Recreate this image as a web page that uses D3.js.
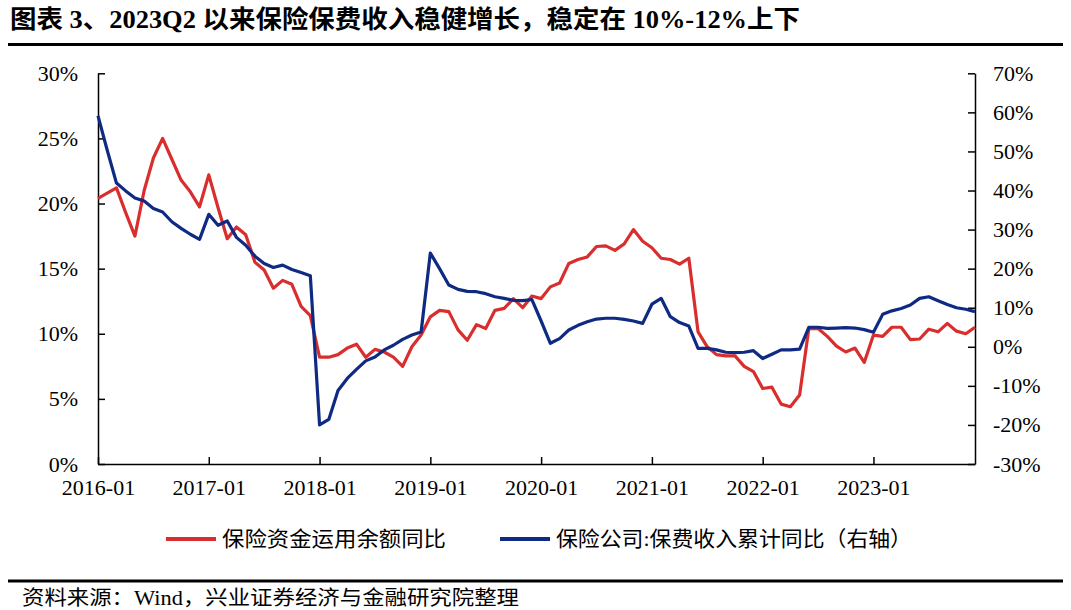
<!DOCTYPE html>
<html><head><meta charset="utf-8">
<script src="https://cdn.jsdelivr.net/npm/d3@7"></script>
<style>body{margin:0;background:#fff} svg{display:block}</style>
</head><body><svg id="c" width="1071" height="610"></svg>
<script>
const titleText = "图表 3、2023Q2 以来保险保费收入稳健增长，稳定在 10%-12%上下";
const sourceText = "资料来源：Wind，兴业证券经济与金融研究院整理";
const seriesNames = ["保险资金运用余额同比", "保险公司:保费收入累计同比（右轴）"];
const months = d3.timeMonth.range(new Date(2016, 0, 1), new Date(2024, 0, 1)).map(d3.timeFormat("%Y-%m"));
const xTickLabels = ["2016-01", "2017-01", "2018-01", "2019-01", "2020-01", "2021-01", "2022-01", "2023-01"];
const leftTicks = [0, 5, 10, 15, 20, 25, 30];
const rightTicks = [-30, -20, -10, 0, 10, 20, 30, 40, 50, 60, 70];

// 保险资金运用余额同比 (%), left axis
const fundUseYoY = [
  20.4, 20.8, 21.2, 19.3, 17.5, 21.0, 23.5, 25.0, 23.4, 21.8, 20.9, 19.75,
  22.2, 19.7, 17.3, 18.2, 17.6, 15.5, 14.9, 13.5, 14.1, 13.8, 12.1, 11.4,
  8.2, 8.2, 8.4, 8.9, 9.2, 8.2, 8.8, 8.6, 8.2, 7.5, 9.0, 9.9,
  11.3, 11.8, 11.7, 10.3, 9.5, 10.7, 10.4, 11.8, 11.95, 12.7, 12.0, 12.9,
  12.7, 13.6, 13.9, 15.4, 15.7, 15.9, 16.7, 16.75, 16.4, 16.9, 18.0, 17.1,
  16.6, 15.8, 15.7, 15.35, 15.8, 10.15, 9.0, 8.4, 8.3, 8.3, 7.5, 7.1,
  5.8, 5.9, 4.6, 4.4, 5.3, 10.4, 10.4, 9.8, 9.05, 8.6, 8.9, 7.8,
  9.9, 9.8, 10.5, 10.5, 9.55, 9.6, 10.35, 10.15, 10.8, 10.2, 10.0, 10.5
];
// 保险公司:保费收入累计同比 (%), right axis
const premiumYoY = [
  59.1, 50.3, 41.9, 39.9, 38.1, 37.3, 35.4, 34.5, 32.0, 30.3, 28.8, 27.5,
  33.9, 31.1, 32.2, 28.0, 26.0, 23.2, 21.3, 20.3, 20.9, 19.8, 19.0, 18.2,
  -20.0, -18.6, -11.2, -8.1, -5.8, -3.6, -2.6, -0.8, 0.4, 1.9, 3.0, 3.8,
  24.0, 20.0, 15.8, 14.7, 14.2, 14.1, 13.6, 12.8, 12.4, 11.9, 11.8, 12.1,
  6.6, 0.9, 2.1, 4.3, 5.5, 6.4, 7.1, 7.3, 7.3, 7.0, 6.6, 6.0,
  10.9, 12.4, 7.7, 6.2, 5.3, -0.4, -0.4, -0.8, -1.4, -1.5, -1.4, -1.0,
  -3.0, -1.9, -0.8, -0.8, -0.6, 5.0, 5.0, 4.7, 4.8, 4.9, 4.8, 4.4,
  3.7, 8.3, 9.2, 9.8, 10.7, 12.4, 12.8, 11.8, 10.8, 10.0, 9.6, 9.0
];

const RED = "#d92e2e", BLUE = "#0f2a82";
const FONT = "'Liberation Serif','Noto Sans CJK SC',serif";
const CJK = "'Liberation Serif','Noto Sans CJK SC',sans-serif";

const svg = d3.select("#c");
const L = 98, R = 975, T = 73.3, B = 464;

const x = d3.scalePoint().domain(months).range([L, R]);
const yL = d3.scaleLinear().domain([0, 30]).range([B, T]);
const yR = d3.scaleLinear().domain([-30, 70]).range([B, T]);

// title
svg.append("text").attr("x", 10).attr("y", 28)
  .attr("font-family", CJK).attr("font-weight", "bold").attr("font-size", 25)
  .attr("textLength", 790).attr("lengthAdjust", "spacingAndGlyphs")
  .attr("fill", "#000").text(titleText);
svg.append("line").attr("x1", 8).attr("x2", 1063).attr("y1", 44.5).attr("y2", 44.5)
  .attr("stroke", "#000").attr("stroke-width", 3);

// axes
const fmt = d => d + "%";
const gL = svg.append("g").attr("transform", `translate(${L},0)`)
  .call(d3.axisLeft(yL).tickValues(leftTicks).tickFormat(fmt).tickSizeInner(-7).tickSizeOuter(0).tickPadding(20));
const gR = svg.append("g").attr("transform", `translate(${R},0)`)
  .call(d3.axisRight(yR).tickValues(rightTicks).tickFormat(fmt).tickSizeInner(-7).tickSizeOuter(0).tickPadding(18));
const gX = svg.append("g").attr("transform", `translate(0,${B})`)
  .call(d3.axisBottom(x).tickValues(xTickLabels).tickSizeInner(-7).tickSizeOuter(0).tickPadding(15));

[gL, gR, gX].forEach(g => {
  g.selectAll("path.domain").attr("stroke", "#000").attr("stroke-width", 1.5);
  g.selectAll(".tick line").attr("stroke", "#000").attr("stroke-width", 1.5);
  g.selectAll(".tick text").attr("font-family", FONT).attr("font-size", 22).attr("fill", "#000");
});

// lines
const lineL = d3.line().x((d, i) => x(months[i])).y(d => yL(d));
const lineR = d3.line().x((d, i) => x(months[i])).y(d => yR(d));
svg.append("path").datum(fundUseYoY).attr("d", lineL)
  .attr("fill", "none").attr("stroke", RED).attr("stroke-width", 3.2).attr("stroke-linejoin", "round");
svg.append("path").datum(premiumYoY).attr("d", lineR)
  .attr("fill", "none").attr("stroke", BLUE).attr("stroke-width", 3.2).attr("stroke-linejoin", "round");

// legend
const legend = [
  { name: seriesNames[0], color: RED, x: 166, w: 224 },
  { name: seriesNames[1], color: BLUE, x: 500, w: 356 }
];
legend.forEach(l => {
  svg.append("line").attr("x1", l.x).attr("x2", l.x + 50).attr("y1", 539).attr("y2", 539)
    .attr("stroke", l.color).attr("stroke-width", 4);
  svg.append("text").attr("x", l.x + 56).attr("y", 546)
    .attr("font-family", CJK).attr("font-size", 21).attr("fill", "#000")
    .attr("textLength", l.w).attr("lengthAdjust", "spacingAndGlyphs").text(l.name);
});

// source
svg.append("line").attr("x1", 8).attr("x2", 1063).attr("y1", 581).attr("y2", 581)
  .attr("stroke", "#000").attr("stroke-width", 3);
svg.append("text").attr("x", 22).attr("y", 605)
  .attr("font-family", CJK).attr("font-size", 20).attr("fill", "#000")
  .attr("textLength", 497).attr("lengthAdjust", "spacingAndGlyphs").text(sourceText);
</script></body></html>
